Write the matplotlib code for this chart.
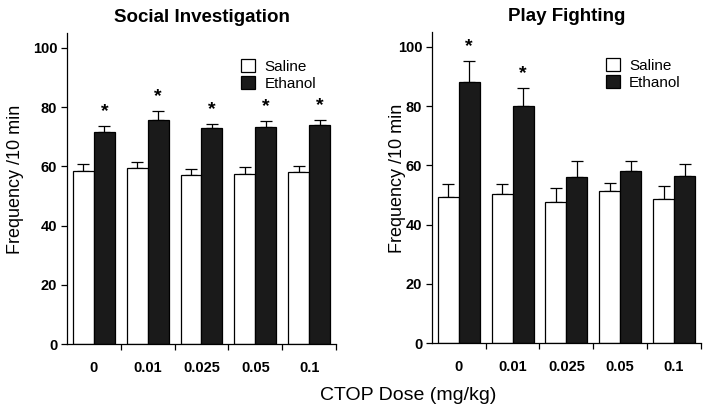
import matplotlib.pyplot as plt
import numpy as np

plt.rcParams['font.family'] = ['Liberation Sans', 'DejaVu Sans']

doses = ["0", "0.01", "0.025", "0.05", "0.1"]

# social investigation
si_saline = [58.5, 59.5, 57.0, 57.5, 58.0]
si_saline_err = [2.3, 2.0, 2.0, 2.1, 2.2]
si_ethanol = [71.7, 75.5, 73.0, 73.3, 74.0]
si_ethanol_err = [2.0, 3.0, 1.4, 2.0, 1.7]
si_star = [True, True, True, True, True]

# play fighting
pf_saline = [49.3, 50.5, 47.5, 51.3, 48.6]
pf_saline_err = [4.4, 3.1, 5.0, 2.9, 4.4]
pf_ethanol = [88.0, 80.0, 56.2, 58.2, 56.4]
pf_ethanol_err = [7.4, 6.0, 5.4, 3.4, 4.1]
pf_star = [True, True, False, False, False]

fig = plt.figure(figsize=(7.08, 4.12), dpi=100)

def panel(rect, title, sal, sal_err, eth, eth_err, stars, ylab_x):
    ax = fig.add_axes(rect)
    x = np.arange(len(doses))
    w = 0.39
    ax.bar(x - w / 2, sal, w, color="white", edgecolor="black", linewidth=0.9,
           label="Saline", zorder=2)
    ax.bar(x + w / 2, eth, w, color="#1a1a1a", edgecolor="black", linewidth=0.9,
           label="Ethanol", zorder=2)
    # upward error bars only
    ax.errorbar(x - w / 2, sal, yerr=[np.zeros(len(sal)), sal_err], fmt="none",
                ecolor="black", elinewidth=0.9, capsize=4.5, capthick=0.9, zorder=1)
    ax.errorbar(x + w / 2, eth, yerr=[np.zeros(len(eth)), eth_err], fmt="none",
                ecolor="black", elinewidth=0.9, capsize=4.5, capthick=0.9, zorder=1)
    for i in range(len(doses)):
        if stars[i]:
            ax.text(x[i] + w / 2, eth[i] + eth_err[i] + 2.0, "*", ha="center",
                    va="bottom", fontsize=14, fontweight="bold")

    ax.set_xlim(-0.5, len(doses) - 0.5)
    ax.set_ylim(0, 105)
    ax.set_yticks([0, 20, 40, 60, 80, 100])
    ax.set_xticks(x)
    ax.set_xticklabels(doses)
    ax.set_xticks(np.arange(0.5, len(doses)), minor=True)
    ax.tick_params(axis="x", which="major", length=0, pad=12, labelsize=10.5)
    ax.tick_params(axis="x", which="minor", length=4, direction="out", width=0.9)
    ax.tick_params(axis="y", length=4, width=0.9, pad=3, labelsize=10.5)
    for lab in ax.get_xticklabels() + ax.get_yticklabels():
        lab.set_fontweight("bold")
    ax.spines["top"].set_visible(False)
    ax.spines["right"].set_visible(False)
    ax.spines["left"].set_linewidth(0.9)
    ax.spines["bottom"].set_linewidth(0.9)

    ax.set_title(title, fontsize=13.5, fontweight="bold", pad=8)
    ax.set_ylabel("Frequency /10 min", fontsize=13)
    ax.yaxis.set_label_coords(ylab_x, 0.53)
    ax.legend(loc="upper right", bbox_to_anchor=(0.965, 0.95), frameon=False,
              fontsize=11, handlelength=0.9, handleheight=0.9, handletextpad=0.6,
              labelspacing=0.15, borderaxespad=0.3)
    return ax

panel([0.0946, 0.165, 0.38, 0.755], "Social Investigation",
      si_saline, si_saline_err, si_ethanol, si_ethanol_err, si_star, -0.16)
panel([0.610, 0.167, 0.38, 0.755], "Play Fighting",
      pf_saline, pf_saline_err, pf_ethanol, pf_ethanol_err, pf_star, -0.097)

fig.text(0.576, 0.04, "CTOP Dose (mg/kg)", ha="center", va="center", fontsize=14)

fig.savefig("out.png", dpi=100)
